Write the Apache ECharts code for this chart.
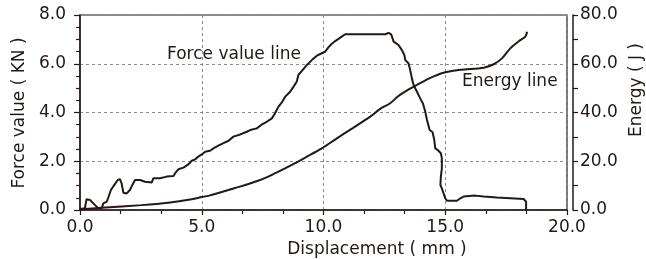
<!DOCTYPE html>
<html>
<head>
<meta charset="utf-8">
<script src="https://cdn.jsdelivr.net/npm/echarts@6/dist/echarts.min.js"></script>
<style>html,body{margin:0;padding:0;background:#fff}#c{width:646px;height:259px}</style>
</head>
<body>
<div id="c"></div>
<script>
var xTicks = [0, 5, 10, 15, 20];
var leftTicks = [0, 2, 4, 6, 8];
var rightTicks = [0, 20, 40, 60, 80];

var forceX = [0,0.2,0.27,0.41,0.62,0.75,0.89,0.96,1.1,1.16,1.27,1.41,1.55,1.64,1.71,1.78,1.92,2.05,2.15,2.26,2.47,2.67,2.95,3.01,3.29,3.56,3.84,3.9,4.04,4.25,4.45,4.59,4.73,4.86,5.0,5.14,5.34,5.48,5.68,5.89,6.1,6.3,6.58,6.85,6.99,7.26,7.47,7.67,7.88,8.01,8.15,8.29,8.43,8.63,8.77,8.9,8.97,9.14,9.32,9.52,9.73,9.93,10.07,10.2,10.32,10.48,10.69,10.89,12.54,12.67,12.78,12.88,13.08,13.22,13.32,13.36,13.49,13.56,13.63,13.7,13.84,13.97,14.08,14.18,14.25,14.36,14.48,14.55,14.59,14.69,14.82,14.86,14.86,14.82,14.8,14.86,14.93,15.0,15.07,15.48,15.62,15.75,16.23,16.58,17.12,17.67,18.22,18.32,18.32];
var forceY = [0.04,0.07,0.44,0.41,0.2,0.07,0.07,0.27,0.34,0.41,0.82,1.03,1.23,1.27,1.09,0.71,0.68,0.82,1.03,1.23,1.23,1.16,1.13,1.30,1.30,1.37,1.39,1.50,1.67,1.74,1.87,2.02,2.08,2.19,2.28,2.39,2.43,2.53,2.64,2.74,2.84,3.01,3.1,3.21,3.28,3.35,3.51,3.62,3.76,3.97,4.24,4.42,4.65,4.85,5.06,5.26,5.54,5.74,5.95,6.15,6.33,6.43,6.50,6.67,6.80,6.93,7.07,7.21,7.21,7.27,7.21,6.91,6.77,6.56,6.36,6.15,6.02,5.74,5.40,5.13,4.85,4.58,4.38,4.03,3.69,3.28,3.19,2.87,2.53,2.46,2.33,2.12,1.71,1.37,1.03,0.89,0.82,0.48,0.38,0.38,0.48,0.55,0.59,0.55,0.51,0.48,0.45,0.34,0.0];

var energyX = [0,0.89,2.53,3.63,4.59,5.0,5.27,6.37,7.4,8.0,8.7,9.3,9.93,10.55,11.2,11.92,12.33,12.74,13.08,13.5,13.84,14.39,14.93,15.62,16.58,16.99,17.33,17.67,18.08,18.29,18.36];
var energyY = [0.3,0.9,2.0,3.0,4.4,5.3,5.8,9.0,12.3,15.0,18.5,21.8,25.3,29.4,33.6,38.3,41.5,43.8,46.8,49.5,51.3,54.2,56.3,57.5,58.4,59.8,62.2,66.3,69.7,71.1,73.1];

var forceData = forceX.map(function(x, i){ return [x, forceY[i]]; });
var energyData = energyX.map(function(x, i){ return [x, energyY[i]]; });

var INK = '#231815';
var FONT = 'DejaVu Sans';
var gridDash = {show: true, lineStyle: {color: '#8a8a8a', type: [3, 3], width: 1}};

var chart = echarts.init(document.getElementById('c'), null, {renderer: 'canvas'});
chart.setOption({
  animation: false,
  backgroundColor: '#fff',
  grid: {left: 80, right: 79, top: 15, bottom: 49, show: true, borderColor: INK, borderWidth: 1.2, backgroundColor: 'transparent'},
  xAxis: {
    type: 'value', min: xTicks[0], max: xTicks[xTicks.length - 1], interval: 5,
    offset: 2.5,
    axisLine: {show: true, lineStyle: {color: INK, width: 1.5}},
    axisTick: {show: true, inside: false, length: 5, lineStyle: {color: INK, width: 1.2}},
    minorTick: {show: true, splitNumber: 3, length: 4, lineStyle: {color: INK, width: 1.2}},
    axisLabel: {color: INK, fontFamily: FONT, fontSize: 17, margin: 7, formatter: function(v){ return v.toFixed(1); }},
    splitLine: gridDash
  },
  yAxis: [{
    type: 'value', min: leftTicks[0], max: leftTicks[leftTicks.length - 1], interval: 2,
    position: 'left', offset: 2,
    axisLine: {show: true, lineStyle: {color: INK, width: 1.5}},
    axisTick: {show: true, inside: false, length: 6, lineStyle: {color: INK, width: 1.2}},
    minorTick: {show: true, splitNumber: 4, length: 4, lineStyle: {color: INK, width: 1.2}},
    axisLabel: {color: INK, fontFamily: FONT, fontSize: 17, margin: 12, formatter: function(v){ return v.toFixed(1); }},
    splitLine: gridDash
  }, {
    type: 'value', min: rightTicks[0], max: rightTicks[rightTicks.length - 1], interval: 20,
    position: 'right', offset: 6,
    axisLine: {show: true, lineStyle: {color: INK, width: 1.5}},
    axisTick: {show: true, inside: false, length: 5, lineStyle: {color: INK, width: 1.2}},
    minorTick: {show: true, splitNumber: 2, length: 5, lineStyle: {color: INK, width: 1.2}},
    axisLabel: {color: INK, fontFamily: FONT, fontSize: 17, margin: 7, formatter: function(v){ return v.toFixed(1); }},
    splitLine: {show: false}
  }],
  series: [{
    name: 'Force value line', type: 'line', yAxisIndex: 0, data: forceData,
    showSymbol: false, symbol: 'none',
    lineStyle: {color: INK, width: 2}
  }, {
    name: 'Energy line', type: 'line', yAxisIndex: 1, data: energyData,
    showSymbol: false, symbol: 'none', smooth: 0.3,
    lineStyle: {color: INK, width: 2}
  }],
  graphic: [
    {type: 'text', x: 167, y: 55, style: {text: 'Force value line', fill: INK, font: '17px "DejaVu Sans"', textAlign: 'left', textVerticalAlign: 'middle'}},
    {type: 'text', x: 462, y: 82, style: {text: 'Energy line', fill: INK, font: '17px "DejaVu Sans"', textAlign: 'left', textVerticalAlign: 'middle'}},
    {type: 'text', x: 377, y: 250, style: {text: 'Displacement ( mm )', fill: INK, font: '17px "DejaVu Sans"', textAlign: 'center', textVerticalAlign: 'middle'}},
    {type: 'text', x: 20, y: 113, rotation: Math.PI / 2, style: {text: 'Force value ( KN )', fill: INK, font: '17px "DejaVu Sans"', textAlign: 'center', textVerticalAlign: 'middle'}},
    {type: 'text', x: 637, y: 90, rotation: Math.PI / 2, style: {text: 'Energy ( J )', fill: INK, font: '17px "DejaVu Sans"', textAlign: 'center', textVerticalAlign: 'middle'}}
  ]
});
</script>
</body>
</html>
